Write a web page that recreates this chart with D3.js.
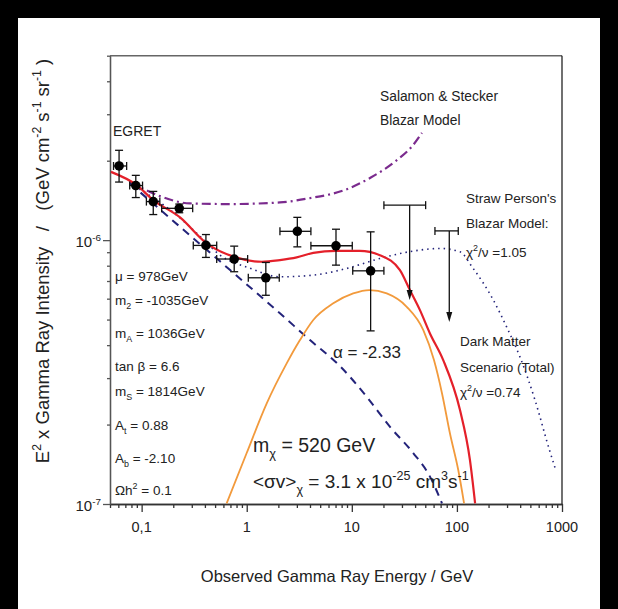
<!DOCTYPE html>
<html>
<head>
<meta charset="utf-8">
<script src="https://cdn.jsdelivr.net/npm/d3@7"></script>
<style>
  body { margin: 0; background: #000; }
  #chart { position: absolute; left: 18px; top: 18px; width: 582px; height: 591px; background: #fff; }
  svg { position: absolute; left: -18px; top: -18px; font-family: "Liberation Sans", Arial, sans-serif; }
  text { white-space: pre; fill: #222; }
</style>
</head>
<body>
<div id="chart"></div>
<script>
// EGRET points (GeV, flux in 1e-6 units)
const egretE  = [0.061, 0.088, 0.129, 0.228, 0.409, 0.76, 1.52, 3.03, 7.07, 15.1];
const egretLo = [0.054, 0.077, 0.111, 0.155, 0.31, 0.518, 1.035, 2.07, 4.08, 10.2];
const egretHi = [0.072, 0.102, 0.149, 0.306, 0.518, 1.02, 2.04, 4.08, 10.1, 20.2];
const egretF  = [1.91, 1.61, 1.40, 1.32, 0.955, 0.848, 0.72, 1.08, 0.952, 0.765];
const egretFlo = [1.66, 1.45, 1.25, 1.27, 0.86, 0.759, 0.618, 0.943, 0.804, 0.453];
const egretFhi = [2.19, 1.76, 1.53, 1.37, 1.05, 0.949, 0.823, 1.22, 1.10, 1.075];

// upper limits
const limE   = [35.5, 84.6];
const limLo  = [20.2, 61.8];
const limHi  = [50.4, 103];
const limF   = [1.357, 1.084];
const limTip = [0.593, 0.49];

// model curves
const totalE = [0.0511, 0.0897, 0.129, 0.232, 0.409, 0.762, 1.39, 2.07, 2.99, 4.30, 7.07, 11.9, 18.5, 28.7, 35.7, 44.5, 55.4, 74.1, 107, 133, 149];
const totalF = [1.814, 1.616, 1.418, 1.219, 0.977, 0.864, 0.828, 0.840, 0.860, 0.895, 0.911, 0.911, 0.877, 0.770, 0.647, 0.543, 0.443, 0.351, 0.227, 0.147, 0.1006];

const darkE = [0.644, 0.999, 1.55, 2.40, 3.21, 4.30, 6.66, 10.3, 14.7, 21.5, 33.3, 47.9, 60.5, 72.1, 85.9, 103, 117];
const darkF = [0.1006, 0.156, 0.2406, 0.341, 0.418, 0.498, 0.576, 0.628, 0.647, 0.628, 0.559, 0.456, 0.351, 0.263, 0.185, 0.1345, 0.1006];

const bgE = [0.0775, 0.232, 0.557, 2.07, 4.00, 7.72, 13.85, 23.1, 38.4, 55.4, 72.1];
const bgF = [1.640, 1.123, 0.831, 0.528, 0.418, 0.333, 0.255, 0.196, 0.156, 0.127, 0.1006];

const strawE = [0.0775, 0.2157, 0.359, 0.557, 1.074, 2.07, 4.30, 8.93, 18.5, 38.4, 69.0, 107, 140, 222, 297, 398, 553, 760, 870];
const strawF = [1.640, 1.244, 1.035, 0.877, 0.783, 0.726, 0.737, 0.781, 0.852, 0.909, 0.930, 0.903, 0.79, 0.593, 0.469, 0.361, 0.248, 0.16, 0.135];

const ssE = [0.0775, 0.1495, 0.2885, 0.693, 2.07, 3.9, 8.6, 15.3, 26.0, 37.5, 46.5];
const ssF = [1.663, 1.468, 1.377, 1.370, 1.390, 1.44, 1.55, 1.73, 1.99, 2.27, 2.55];

const xMajor = [0.1, 1, 10, 100, 1000];
const xMajorLabels = ["0,1", "1", "10", "100", "1000"];
const yMajor = [1e-7, 1e-6];
const yMajorExp = ["-7", "-6"];

const W = 618, H = 609;
const svg = d3.select('#chart').append('svg').attr('width', W).attr('height', H);

const x = d3.scaleLog().domain([0.05, 1000]).range([110, 562]);
const y = d3.scaleLog().domain([1e-7, 5e-6]).range([504, 55.7]);

svg.append('clipPath').attr('id', 'plot')
  .append('rect').attr('x', 110).attr('y', 55.7).attr('width', 452).attr('height', 448.3);

// rich text helper: parts = [[text, 'n'|'sup'|'sub'], ...]
function rich(t, parts, size) {
  let shift = 0;
  parts.forEach(([s, m]) => {
    const target = m === 'sup' ? -0.42 * size : m === 'sub' ? 0.32 * size : 0;
    t.append('tspan').attr('dy', target - shift)
      .attr('font-size', m === 'n' ? size : size * 0.66).text(s);
    shift = target;
  });
  return t;
}
function label(px, py, parts, size, anchor) {
  const t = svg.append('text').attr('x', px).attr('y', py).attr('font-size', size)
    .attr('text-anchor', anchor || 'start');
  return rich(t, parts, size);
}

// frame
svg.append('line').attr('x1', 110).attr('x2', 562).attr('y1', 55.7).attr('y2', 55.7)
  .attr('stroke', '#666').attr('stroke-width', 1.5);
svg.append('line').attr('x1', 562).attr('x2', 562).attr('y1', 55.7).attr('y2', 504)
  .attr('stroke', '#111').attr('stroke-width', 1.2);

// axes
const minorX = x.ticks().filter(d => !xMajor.some(m => Math.abs(m - d) / m < 1e-6));
const minorY = y.ticks().filter(d => !yMajor.some(m => Math.abs(m - d) / m < 1e-6));

const xAxisG = svg.append('g').attr('transform', 'translate(0,504)');
xAxisG.call(d3.axisBottom(x).tickValues(minorX).tickSize(4).tickSizeOuter(0).tickFormat(''));
xAxisG.append('g').call(d3.axisBottom(x).tickValues(xMajor).tickSize(8).tickSizeOuter(0).tickFormat(''));
xAxisG.selectAll('path, line').attr('stroke', '#333').attr('stroke-width', 1.3);

const yAxisG = svg.append('g').attr('transform', 'translate(110,0)');
yAxisG.call(d3.axisLeft(y).tickValues(minorY).tickSize(3).tickSizeOuter(0).tickFormat(''));
yAxisG.append('g').call(d3.axisLeft(y).tickValues(yMajor).tickSize(7).tickSizeOuter(0).tickFormat(''));
yAxisG.selectAll('path, line').attr('stroke', '#555').attr('stroke-width', 1.3);

xMajor.forEach((d, i) => {
  svg.append('text').attr('x', x(d)).attr('y', 532).attr('font-size', 14.5)
    .attr('text-anchor', 'middle').text(xMajorLabels[i]);
});
yMajor.forEach((d, i) => {
  label(101, y(d) + 7, [['10', 'n'], [yMajorExp[i], 'sup']], 15, 'end');
});

// axis titles
svg.append('text').attr('x', 337).attr('y', 582).attr('font-size', 16.5)
  .attr('text-anchor', 'middle').text('Observed Gamma Ray Energy / GeV');
const yt = svg.append('text').attr('transform', 'translate(49,261) rotate(-90)')
  .attr('font-size', 18.5).attr('text-anchor', 'middle');
rich(yt, [['E', 'n'], ['2', 'sup'], [' x Gamma Ray Intensity   /   (GeV cm', 'n'], ['-2', 'sup'],
  [' s', 'n'], ['-1', 'sup'], [' sr', 'n'], ['-1', 'sup'], [' )', 'n']], 18.5);

// curves
const line = d3.line().x(d => x(d[0])).y(d => y(d[1] * 1e-6)).curve(d3.curveMonotoneX);
const curves = svg.append('g').attr('clip-path', 'url(#plot)');
function curve(es, fs, color, width, dash) {
  curves.append('path').datum(es.map((e, i) => [e, fs[i]]))
    .attr('d', line).attr('fill', 'none').attr('stroke', color)
    .attr('stroke-width', width).attr('stroke-dasharray', dash || null);
}
curve(ssE, ssF, '#7b2b8e', 2.2, '9,4,2,4');
curve(strawE, strawF, '#23237a', 1.6, '1.5,4');
curve(bgE, bgF, '#23237a', 2, '8,6');
curve(darkE, darkF, '#f29a3c', 1.8);
curve(totalE, totalF, '#e4202a', 2.2);

// EGRET points
const pts = svg.append('g').attr('stroke', '#111').attr('stroke-width', 1.3);
egretE.forEach((e, i) => {
  const cx = x(e), cy = y(egretF[i] * 1e-6);
  const x0 = x(egretLo[i]), x1 = x(egretHi[i]);
  const y0 = y(egretFlo[i] * 1e-6), y1 = y(egretFhi[i] * 1e-6);
  pts.append('line').attr('x1', x0).attr('x2', x1).attr('y1', cy).attr('y2', cy);
  pts.append('line').attr('x1', x0).attr('x2', x0).attr('y1', cy - 4).attr('y2', cy + 4);
  pts.append('line').attr('x1', x1).attr('x2', x1).attr('y1', cy - 4).attr('y2', cy + 4);
  pts.append('line').attr('x1', cx).attr('x2', cx).attr('y1', y0).attr('y2', y1);
  pts.append('line').attr('x1', cx - 4).attr('x2', cx + 4).attr('y1', y0).attr('y2', y0);
  pts.append('line').attr('x1', cx - 4).attr('x2', cx + 4).attr('y1', y1).attr('y2', y1);
  pts.append('circle').attr('cx', cx).attr('cy', cy).attr('r', 4.8).attr('fill', '#000').attr('stroke', 'none');
});

// upper limits
limE.forEach((e, i) => {
  const cx = x(e), top = y(limF[i] * 1e-6), tip = y(limTip[i] * 1e-6);
  const x0 = x(limLo[i]), x1 = x(limHi[i]);
  pts.append('line').attr('x1', x0).attr('x2', x1).attr('y1', top).attr('y2', top);
  pts.append('line').attr('x1', x0).attr('x2', x0).attr('y1', top - 4).attr('y2', top + 4);
  pts.append('line').attr('x1', x1).attr('x2', x1).attr('y1', top - 4).attr('y2', top + 4);
  pts.append('line').attr('x1', cx).attr('x2', cx).attr('y1', top).attr('y2', tip - 6);
  svg.append('path').attr('d', `M${cx - 3},${tip - 10}L${cx + 3},${tip - 10}L${cx},${tip}Z`).attr('fill', '#111');
});

// annotations
label(113, 136, [['EGRET', 'n']], 14);
label(380, 101, [['Salamon & Stecker', 'n']], 13.8);
label(380, 125, [['Blazar Model', 'n']], 13.8);
label(466, 203, [['Straw Person\'s', 'n']], 13.5);
label(466, 228, [['Blazar Model:', 'n']], 13.5);
label(466, 257, [['χ', 'n'], ['2', 'sup'], ['/ν =1.05', 'n']], 13.5);
label(460, 346, [['Dark Matter', 'n']], 13.5);
label(460, 372, [['Scenario (Total)', 'n']], 13.5);
label(460, 397, [['χ', 'n'], ['2', 'sup'], ['/ν =0.74', 'n']], 13.5);
label(333, 358, [['α = -2.33', 'n']], 17);
label(253, 452, [['m', 'n'], ['χ', 'sub'], [' = 520 GeV', 'n']], 19.5);
label(253, 488, [['<σv>', 'n'], ['χ', 'sub'], [' = 3.1 x 10', 'n'], ['-25', 'sup'], [' cm', 'n'], ['3', 'sup'], ['s', 'n'], ['-1', 'sup']], 19);

const params = [
  [[['μ = 978GeV', 'n']], 281],
  [[['m', 'n'], ['2', 'sub'], [' = -1035GeV', 'n']], 305],
  [[['m', 'n'], ['A', 'sub'], [' = 1036GeV', 'n']], 338],
  [[['tan β = 6.6', 'n']], 371],
  [[['m', 'n'], ['S', 'sub'], [' = 1814GeV', 'n']], 396],
  [[['A', 'n'], ['t', 'sub'], [' = 0.88', 'n']], 430],
  [[['A', 'n'], ['b', 'sub'], [' = -2.10', 'n']], 463],
  [[['Ωh', 'n'], ['2', 'sup'], [' = 0.1', 'n']], 495]
];
params.forEach(([parts, py]) => label(115, py, parts, 13.5));
</script>
</body>
</html>
